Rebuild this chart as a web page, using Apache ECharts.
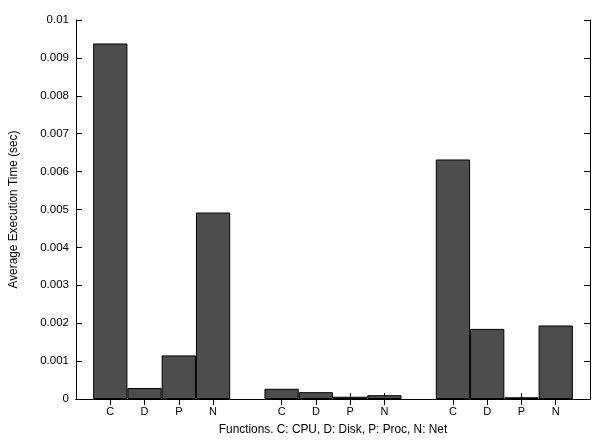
<!DOCTYPE html>
<html>
<head>
<meta charset="utf-8">
<script src="https://cdn.jsdelivr.net/npm/echarts@6/dist/echarts.min.js"></script>
<style>
html,body{margin:0;padding:0;background:#fff;}
#c{width:593px;height:444px;}
</style>
</head>
<body>
<div id="c"></div>
<script>
// Category slots (empty strings are gaps / edges)
const categories = ["", "C", "D", "P", "N", "", "C", "D", "P", "N", "", "C", "D", "P", "N", ""];
// Average execution time (sec) per slot; null where there is no bar
const values = [null, 0.00938, 0.00029, 0.00115, 0.00492, null, 0.00027, 0.00018, 0.00006, 0.0001, null, 0.00632, 0.00185, 0.000045, 0.00194, null];
const yTicks = [0, 0.001, 0.002, 0.003, 0.004, 0.005, 0.006, 0.007, 0.008, 0.009, 0.01];
const xTitle = "Functions. C: CPU, D: Disk, P: Proc, N: Net";
const yTitle = "Average Execution Time (sec)";

const font = "'Liberation Sans', Arial, Helvetica, sans-serif";
const chart = echarts.init(document.getElementById('c'), null, {renderer: 'canvas'});
const tickShow = (i) => categories[i] !== "";
chart.setOption({
  animation: false,
  backgroundColor: '#fff',
  grid: {left: 74, right: 2, top: 20, bottom: 45, containLabel: false},
  xAxis: [{
    type: 'category',
    data: categories,
    boundaryGap: false,
    name: xTitle,
    nameLocation: 'middle',
    nameGap: 25,
    nameTextStyle: {fontFamily: font, fontSize: 11.85, color: '#000'},
    axisLine: {show: true, lineStyle: {color: '#000', width: 1}},
    axisTick: {show: true, inside: true, length: 6, interval: tickShow, lineStyle: {color: '#000'}},
    axisLabel: {interval: 0, fontFamily: font, fontSize: 11, color: '#000', margin: 7},
    splitLine: {show: false}
  }, {
    type: 'category',
    data: categories,
    boundaryGap: false,
    position: 'top',
    axisLine: {show: true, lineStyle: {color: '#000', width: 1}},
    axisTick: {show: true, inside: true, length: 6, interval: tickShow, lineStyle: {color: '#000'}},
    axisLabel: {show: false},
    splitLine: {show: false}
  }],
  yAxis: [{
    type: 'value',
    min: 0, max: 0.01, interval: 0.001,
    name: yTitle,
    nameLocation: 'middle',
    nameGap: 56,
    nameRotate: 90,
    nameTextStyle: {fontFamily: font, fontSize: 11.85, color: '#000'},
    axisLine: {show: true, lineStyle: {color: '#000', width: 1}},
    axisTick: {show: true, inside: true, length: 6, lineStyle: {color: '#000'}},
    axisLabel: {
      fontFamily: font, fontSize: 11.5, color: '#000', margin: 7,
      formatter: (v) => {
        const t = yTicks.find(x => Math.abs(x - v) < 1e-9);
        return t === 0 ? '0' : String(+((t !== undefined ? t : v).toFixed(3)));
      }
    },
    splitLine: {show: false}
  }, {
    type: 'value',
    min: 0, max: 0.01, interval: 0.001,
    position: 'right',
    axisLine: {show: true, lineStyle: {color: '#000', width: 1}},
    axisTick: {show: true, inside: true, length: 6, lineStyle: {color: '#000'}},
    axisLabel: {show: false},
    splitLine: {show: false}
  }],
  series: [{
    type: 'bar',
    data: values,
    xAxisIndex: 0,
    yAxisIndex: 0,
    barWidth: '100%',
    itemStyle: {color: '#4d4d4d', borderColor: '#000', borderWidth: 1}
  }]
});
</script>
</body>
</html>
